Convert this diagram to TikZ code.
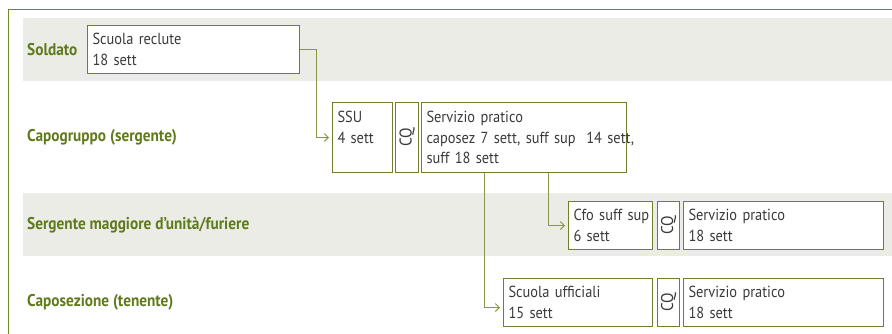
\documentclass[tikz,border=0pt]{standalone}
\usepackage{fontspec}
\setmainfont[FakeStretch=0.9]{PT Sans}
\usetikzlibrary{arrows.meta,calc}
\definecolor{rulegreen}{HTML}{6E8A24}
\definecolor{labelc}{HTML}{5F7A1C}
\definecolor{boxc}{HTML}{6F7F2E}
\definecolor{connc}{HTML}{87964A}
\definecolor{bandc}{HTML}{ECECE6}
\definecolor{txtc}{HTML}{3A3A3A}
\tikzset{
  rank/.style={anchor=west, inner sep=0pt, text=labelc, font=\fontsize{17}{20}\selectfont\bfseries},
  box/.style={draw=boxc, line width=1pt, fill=white, anchor=north west, align=left,
    inner xsep=5pt, inner ysep=0pt, text=txtc, font=\fontsize{16}{20.5}\selectfont},
  cqbox/.style={draw=boxc, line width=1pt, fill=white, anchor=north west, inner sep=0pt},
  cqtext/.style={rotate=90, text=txtc, font=\fontsize{17}{19}\selectfont, inner sep=0pt},
  conn/.style={draw=connc, line width=0.9pt, -{Straight Barb[length=4pt,width=8pt]}, shorten >=3pt},
  framebox/.style={draw=rulegreen, line width=1.6pt, anchor=north west, inner sep=0pt,
    minimum width=900pt, minimum height=340pt},
}
\begin{document}
\begin{tikzpicture}[x=1pt,y=-1pt]
\path[use as bounding box] (0,0) rectangle (892,333);
% frame: a rectangle whose right and bottom sides fall outside the page
\node[framebox] (frame) at (7.5,8.5) {};
% bands
\fill[fill=bandc] (23,18) rectangle (892,81);
\fill[fill=bandc] (23,193) rectangle (892,256);
% rank labels
\node[rank] (l1) at (27,50) {Soldato};
\node[rank] (l2) at (27,137) {Capogruppo (sergente)};
\node[rank] (l3) at (27,225) {Sergente maggiore d’unità/furiere};
\node[rank] (l4) at (27,302) {Caposezione (tenente)};
% boxes
\node[box, text width=202pt, minimum height=48pt] (rec) at (87,25) {Scuola reclute\\18 sett};
\node[box, text width=50pt, minimum height=70pt] (ssu) at (332,102) {SSU\\4 sett\\\mbox{}};
\node[cqbox, minimum width=23pt, minimum height=70pt] (cq1) at (395,102) {};
\node[cqtext] (cq1t) at (cq1.center) {CQ};
\node[box, text width=195pt, minimum height=70pt] (sp1) at (421,102) {\mbox{Servizio pratico}\\\mbox{caposez 7 sett, suff sup\ \ 14 sett,}\\\mbox{suff 18 sett}};
\node[box, text width=74pt, minimum height=48pt] (cfo) at (568,201) {\mbox{Cfo suff sup}\\\mbox{6 sett}};
\node[cqbox, minimum width=22pt, minimum height=48pt] (cq2) at (657,201) {};
\node[cqtext] (cq2t) at (cq2.center) {CQ};
\node[box, text width=190pt, minimum height=48pt] (sp2) at (683,201) {Servizio pratico\\18 sett};
\node[box, text width=139pt, minimum height=48pt] (uff) at (503,278) {Scuola ufficiali\\15 sett};
\node[cqbox, minimum width=22pt, minimum height=48pt] (cq3) at (657,278) {};
\node[cqtext] (cq3t) at (cq3.center) {CQ};
\node[box, text width=190pt, minimum height=48pt] (sp3) at (683,278) {Servizio pratico\\18 sett};
% connectors
\draw[conn] (rec.east) -- ++(16,0) |- (ssu.west);
\coordinate (uffin) at ($(uff.west)+(0,5)$);
\draw[conn] ($(sp1.south west)+(63,0)$) |- (uffin);
\draw[conn] ($(sp1.south west)+(127,0)$) |- (cfo.west);
\end{tikzpicture}
\end{document}
